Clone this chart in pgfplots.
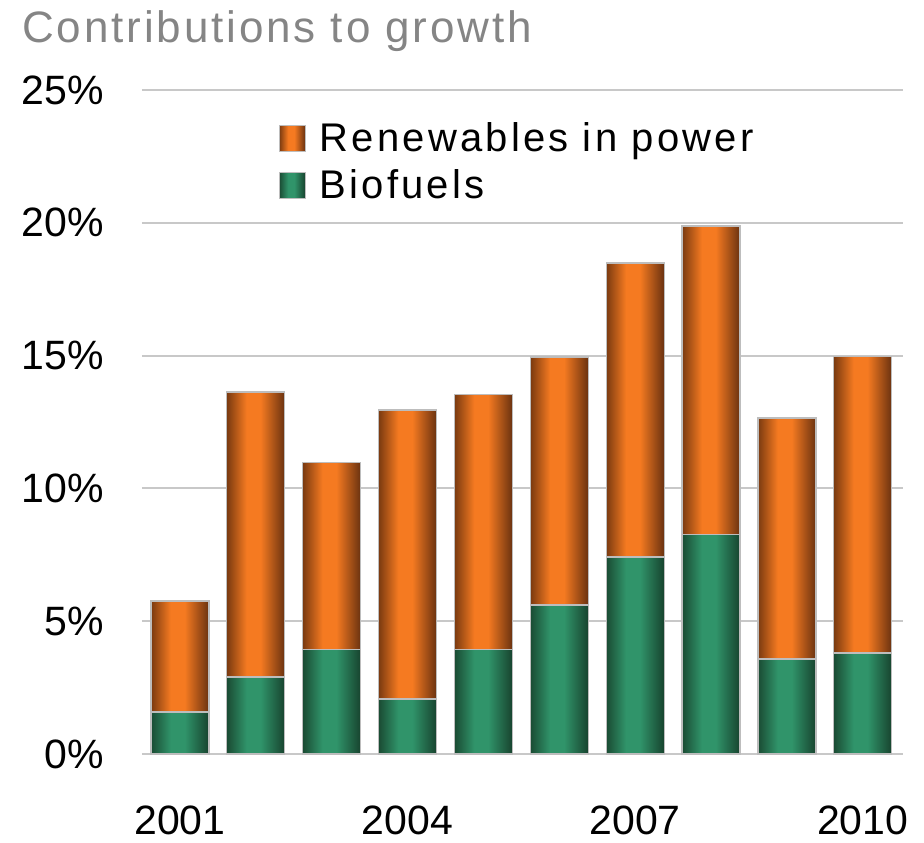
\documentclass[border=0pt]{standalone}
\usepackage{fontspec}
\setmainfont{Liberation Sans}
\newfontfamily\titlefont[LetterSpace=6.5]{Liberation Sans}
\newfontfamily\legfont[LetterSpace=8]{Liberation Sans}
\usepackage{pgfplots}
\pgfplotsset{compat=1.18}

\definecolor{gridgray}{HTML}{C8C8C8}
\definecolor{titlegray}{HTML}{858585}
\definecolor{edgegray}{HTML}{BDBDBD}
\definecolor{oDark}{HTML}{7A3A10}
\definecolor{oMid}{HTML}{F57A21}
\definecolor{oDarkR}{HTML}{6A3210}
\definecolor{gDark}{HTML}{1A4B33}
\definecolor{gMid}{HTML}{30946A}
\definecolor{gDarkR}{HTML}{17432E}

% the bar spans 25bp..75bp of the shading: dark edges, bright a little left of centre
\pgfdeclarehorizontalshading{orangeshade}{100bp}{color(0bp)=(oDark); color(25bp)=(oDark); color(42bp)=(oMid); color(54bp)=(oMid); color(75bp)=(oDarkR); color(100bp)=(oDarkR)}
\pgfdeclarehorizontalshading{greenshade}{100bp}{color(0bp)=(gDark); color(25bp)=(gDark); color(42bp)=(gMid); color(54bp)=(gMid); color(75bp)=(gDarkR); color(100bp)=(gDarkR)}

\pgfplotsset{
    ren bar/.style={ybar, bar shift=0pt, shading=orangeshade, draw=edgegray, line width=0.6pt, forget plot},
    bio bar/.style={ybar, bar shift=0pt, shading=greenshade, draw=edgegray, line width=0.6pt, forget plot},
}

\begin{document}
\begin{tikzpicture}
\useasboundingbox (-71pt,-44pt) rectangle (391pt,377pt);
\begin{axis}[
    scale only axis,
    width=380.5pt, height=332pt,
    ybar, bar width=29pt,
    xmin=-0.5, xmax=9.53,
    ymin=0, ymax=25,
    xtick={0,3,6,9},
    xticklabels={2001,2004,2007,2010},
    ytick={0,5,10,15,20,25},
    yticklabel={\pgfmathprintnumber{\tick}\%},
    axis line style={draw=none},
    major tick length=0pt,
    ymajorgrids=true,
    grid style={gridgray, line width=1pt},
    tick label style={font=\fontsize{20.5}{24}\selectfont},
    /pgf/number format/assume math mode=true,
    yticklabel style={anchor=east, inner sep=0pt, xshift=-19pt},
    xticklabel style={anchor=north, inner sep=0pt, yshift=-25.5pt},
    legend cell align=left,
    legend style={at={(0.179,0.958)}, anchor=north west, draw=none, fill=none,
        inner sep=0pt, font=\legfont\fontsize{20}{23}\selectfont, row sep=3.5pt,
        /tikz/every odd column/.append style={column sep=5pt}},
]
% totals (biofuels + renewables in power), drawn first
\addplot[ren bar] coordinates {(0,5.76)};
\addplot[ren bar] coordinates {(1,13.63)};
\addplot[ren bar] coordinates {(2,10.99)};
\addplot[ren bar] coordinates {(3,12.95)};
\addplot[ren bar] coordinates {(4,13.55)};
\addplot[ren bar] coordinates {(5,14.95)};
\addplot[ren bar] coordinates {(6,18.49)};
\addplot[ren bar] coordinates {(7,19.88)};
\addplot[ren bar] coordinates {(8,12.65)};
\addplot[ren bar] coordinates {(9,14.98)};
% biofuels over the lower part
\addplot[bio bar] coordinates {(0,1.58)};
\addplot[bio bar] coordinates {(1,2.90)};
\addplot[bio bar] coordinates {(2,3.95)};
\addplot[bio bar] coordinates {(3,2.07)};
\addplot[bio bar] coordinates {(4,3.95)};
\addplot[bio bar] coordinates {(5,5.61)};
\addplot[bio bar] coordinates {(6,7.42)};
\addplot[bio bar] coordinates {(7,8.25)};
\addplot[bio bar] coordinates {(8,3.58)};
\addplot[bio bar] coordinates {(9,3.80)};
\addlegendimage{legend image code/.code={\draw[shading=orangeshade, draw=edgegray, line width=0.6pt] (0pt,-6.5pt) rectangle (13pt,6.5pt);}}
\addlegendentry{Renewables in power}
\addlegendimage{legend image code/.code={\draw[shading=greenshade, draw=edgegray, line width=0.6pt] (0pt,-6.5pt) rectangle (13pt,6.5pt);}}
\addlegendentry{Biofuels}
\end{axis}
\node[anchor=base west, text=titlegray, font=\titlefont\fontsize{22}{26}\selectfont, inner sep=0pt] at (-60pt,355.5pt) {Contributions to growth};
\end{tikzpicture}
\end{document}
